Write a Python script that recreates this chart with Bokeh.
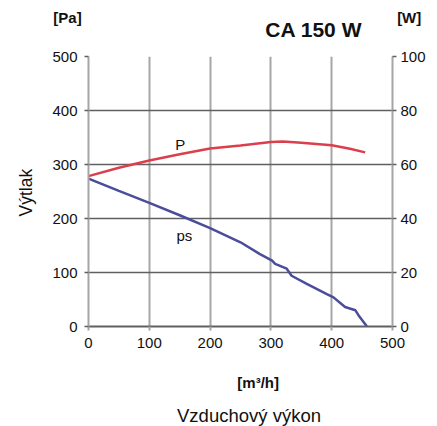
from bokeh.plotting import figure
from bokeh.models import Range1d, LinearAxis, Label, FixedTicker
from bokeh.layouts import column, row
from bokeh.core.properties import value
from bokeh.embed import file_html
from bokeh.resources import INLINE

# Static pressure ps [Pa] vs airflow [m3/h]
flow_ps = [0, 50, 100, 150, 200, 250, 282, 302, 307, 326, 334, 359, 392, 403, 422, 439, 444, 458]
ps = [274, 251, 229, 206, 182, 156, 134, 122, 116, 107, 94, 79, 60, 54, 36, 30, 21, 0]

# Power input P [W] vs airflow [m3/h]
flow_p = [0, 50, 100, 150, 200, 250, 300, 320, 350, 400, 430, 455]
power = [55.7, 58.8, 61.5, 63.8, 65.9, 67.0, 68.3, 68.5, 68.1, 67.1, 65.8, 64.5]

x_ticks = [0, 100, 200, 300, 400, 500]
pa_ticks = [0, 100, 200, 300, 400, 500]
w_ticks = [0, 20, 40, 60, 80, 100]

title_text = "CA 150 W"
left_unit = "[Pa]"
right_unit = "[W]"
y_title = "Výtlak"
x_unit = "[m³/h]"
x_title = "Vzduchový výkon"

FONT = "Liberation Sans"
LIGHT = "#a6a6a6"
DARK = "#606060"
TXT = "#111111"


def text_fig(w, h):
    f = figure(width=w, height=h, output_backend="svg", toolbar_location=None,
               x_range=Range1d(0, w), y_range=Range1d(h, 0),
               x_axis_location=None, y_axis_location=None,
               min_border=0, min_border_left=0, min_border_right=0,
               min_border_top=0, min_border_bottom=0)
    f.grid.visible = False
    f.outline_line_color = None
    f.background_fill_color = "white"
    f.border_fill_color = "white"
    return f


def put(f, x, y, text, size, bold=False, angle=0.0, align="center", baseline="middle"):
    f.text(x=[x], y=[y], text=[text], text_font=value(FONT), text_font_size=value(size),
           text_font_style="bold" if bold else "normal", angle=angle,
           text_align=align, text_baseline=baseline, text_color=TXT)


# header (screen y 0..44)
header = text_fig(437, 44)
put(header, 67, 17, left_unit, "15px", bold=True)
put(header, 408.7, 16.5, right_unit, "15px", bold=True)
put(header, 313.3, 28.8, title_text, "21px", bold=True)

# left strip (screen y 44..360)
left = text_fig(40, 316)
put(left, 25.8, 203.3 - 44, y_title, "17.5px", angle=1.5708)

# footer (screen y 360..426)
footer = text_fig(437, 66)
put(footer, 257.7, 382.3 - 360, x_unit, "15px", bold=True)
put(footer, 248.5, 414.5 - 360, x_title, "18.5px")

# main chart
p = figure(width=397, height=316, output_backend="svg", toolbar_location=None,
           x_range=Range1d(0, 500), y_range=Range1d(0, 500),
           min_border_left=48, min_border_right=45, min_border_top=12, min_border_bottom=34)
p.extra_y_ranges = {"w": Range1d(0, 100)}
p.outline_line_color = None
p.background_fill_color = "white"
p.border_fill_color = "white"

p.xgrid.ticker = FixedTicker(ticks=x_ticks)
p.ygrid.ticker = FixedTicker(ticks=pa_ticks)
p.xgrid.grid_line_color = LIGHT
p.xgrid.grid_line_width = 2
p.ygrid.grid_line_color = DARK
p.ygrid.grid_line_width = 1.5

xa = p.xaxis[0]
xa.ticker = FixedTicker(ticks=x_ticks)
xa.axis_line_color = DARK
xa.axis_line_width = 2
xa.major_tick_line_color = LIGHT
xa.major_tick_line_width = 2
xa.major_tick_out = 4
xa.major_tick_in = 0
xa.minor_tick_line_color = None
xa.major_label_standoff = 7
xa.major_label_text_font = FONT
xa.major_label_text_font_size = "15px"
xa.major_label_text_color = TXT

ya = p.yaxis[0]
ya.ticker = FixedTicker(ticks=pa_ticks)
ya.axis_line_color = LIGHT
ya.axis_line_width = 2
ya.major_tick_line_color = DARK
ya.major_tick_line_width = 1.5
ya.major_tick_out = 4
ya.major_tick_in = 0
ya.minor_tick_line_color = None
ya.major_label_standoff = 7
ya.major_label_text_font = FONT
ya.major_label_text_font_size = "15px"
ya.major_label_text_color = TXT

ra = LinearAxis(y_range_name="w", ticker=FixedTicker(ticks=w_ticks))
ra.axis_line_color = LIGHT
ra.axis_line_width = 2
ra.major_tick_line_color = DARK
ra.major_tick_line_width = 1.5
ra.major_tick_out = 4
ra.major_tick_in = 0
ra.minor_tick_line_color = None
ra.major_label_standoff = 4
ra.major_label_text_font = FONT
ra.major_label_text_font_size = "15px"
ra.major_label_text_color = TXT
p.add_layout(ra, "right")

p.line(flow_p, power, y_range_name="w", line_color="#dc3f4c", line_width=2.5)
p.line(flow_ps, ps, line_color="#4c4c9c", line_width=2.5)

p.add_layout(Label(x=150.8, y=337, text="P", text_font=FONT, text_font_size="15px",
                   text_align="center", text_baseline="middle", text_color=TXT))
p.add_layout(Label(x=157.6, y=169, text="ps", text_font=FONT, text_font_size="15px",
                   text_align="center", text_baseline="middle", text_color=TXT))

layout = column(header, row(left, p), footer)

open("out.html", "w").write(file_html(layout, INLINE))
